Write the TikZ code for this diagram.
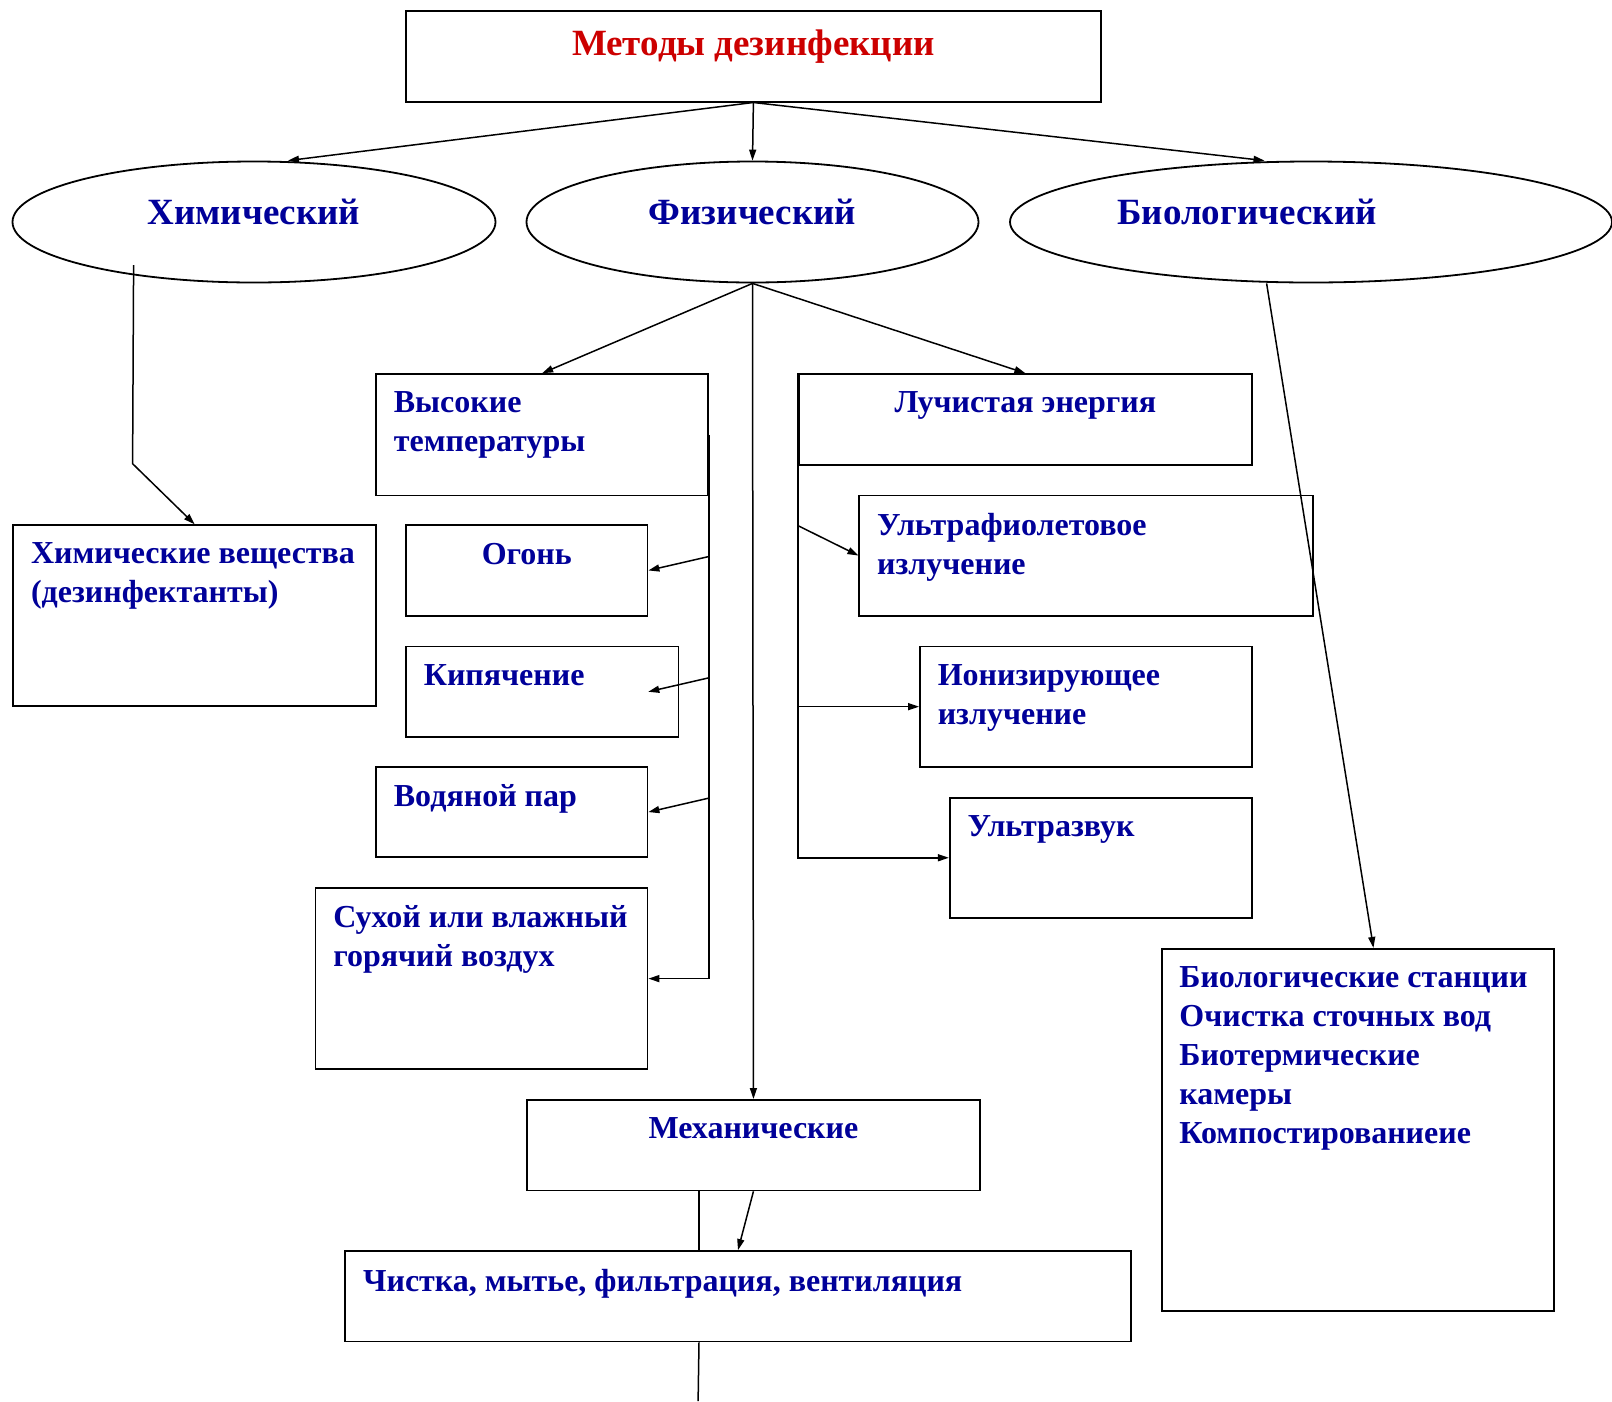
\documentclass[tikz,border=0pt]{standalone}
\usepackage{fontspec}
\setmainfont{Liberation Serif}
\usetikzlibrary{arrows.meta,shapes.geometric,calc}
\definecolor{schemeblue}{RGB}{0,0,153}
\definecolor{schemered}{RGB}{204,0,0}
\begin{document}
\begin{tikzpicture}[x=1pt,y=-1pt,
                box/.style={draw, line width=1.8pt, anchor=north west, inner sep=0pt},
                oval/.style={draw, ellipse, line width=1.8pt, inner sep=0pt},
                words/.style={font=\fontsize{32}{39}\selectfont\bfseries, text=schemeblue, align=left, anchor=north west, inner sep=0pt},
                heading/.style={font=\fontsize{37}{44}\selectfont\bfseries, text=schemeblue, anchor=north, inner sep=0pt},
                link/.style={line width=1.5pt},
                pointer/.style={link, -{Triangle[length=11pt,width=7pt]}}]
                \useasboundingbox (0,0) rectangle (1612,1401);
                \node[box, minimum width=695pt, minimum height=90.5pt] (title) at (405,10.2) {};
                \node[heading, text=schemered] (title-t) at ([shift={(0,19.5)}]title.north) {Методы дезинфекции};
                \node[oval, minimum width=483pt, minimum height=121pt] (chem) at (254,222) {};
                \node[oval, minimum width=452pt, minimum height=121pt] (phys) at (752.5,222) {};
                \node[oval, minimum width=602pt, minimum height=121pt] (bio) at (1311,222) {};
                \node[heading] (chem-t) at (254,199) {Химический};
                \node[heading] (phys-t) at (752.5,199) {Физический};
                \node[heading] (bio-t) at (1247,199) {Биологический};
                \node[box, minimum width=332.1pt, minimum height=121.3pt] (hightemp) at (375.2,373.2) {};
                \node[box, minimum width=362.9pt, minimum height=181pt] (chemsub) at (12.3,524.3) {};
                \node[box, minimum width=241.5pt, minimum height=90.5pt] (fire) at (405.1,524.3) {};
                \node[box, minimum width=272.4pt, minimum height=90.5pt] (boiling) at (405.1,645.6) {};
                \node[box, minimum width=271.4pt, minimum height=90.5pt] (steam) at (375.2,765.9) {};
                \node[box, minimum width=332pt, minimum height=181pt] (hotair) at (314.6,887.2) {};
                \node[box, minimum width=453.4pt, minimum height=90.5pt] (radiant) at (797.8,373.2) {};
                \node[box, minimum width=453.4pt, minimum height=120.3pt] (uv) at (858.4,494.5) {};
                \node[box, minimum width=332.1pt, minimum height=120.3pt] (ionizing) at (919.1,645.6) {};
                \node[box, minimum width=302.3pt, minimum height=120.3pt] (ultrasound) at (948.9,796.7) {};
                \node[box, minimum width=392.7pt, minimum height=361.8pt] (biobox) at (1160.7,947.9) {};
                \node[box, minimum width=452.3pt, minimum height=90.5pt] (mech) at (526.4,1099) {};
                \node[box, minimum width=785.4pt, minimum height=90.5pt] (cleaning) at (344.4,1250.1) {};
                \node[words] (hightemp-t) at ([shift={(18.5,18.5)}]hightemp.north west) {Высокие\\температуры};
                \node[words] (chemsub-t) at ([shift={(18.5,18.5)}]chemsub.north west) {Химические вещества\\(дезинфектанты)};
                \node[words, anchor=north] (fire-t) at ([shift={(0,18.5)}]fire.north) {Огонь};
                \node[words] (boiling-t) at ([shift={(18.5,18.5)}]boiling.north west) {Кипячение};
                \node[words] (steam-t) at ([shift={(18.5,18.5)}]steam.north west) {Водяной пар};
                \node[words] (hotair-t) at ([shift={(18.5,18.5)}]hotair.north west) {Сухой или влажный\\горячий воздух};
                \node[words, anchor=north] (radiant-t) at ([shift={(0,18.5)}]radiant.north) {Лучистая энергия};
                \node[words] (uv-t) at ([shift={(18.5,18.5)}]uv.north west) {Ультрафиолетовое\\излучение};
                \node[words] (ionizing-t) at ([shift={(18.5,18.5)}]ionizing.north west) {Ионизирующее\\излучение};
                \node[words] (ultrasound-t) at ([shift={(18.5,18.5)}]ultrasound.north west) {Ультразвук};
                \node[words] (biobox-t) at ([shift={(18.5,18.5)}]biobox.north west) {Биологические станции\\Очистка сточных вод\\Биотермические\\камеры\\Компостированиеие};
                \node[words, anchor=north] (mech-t) at ([shift={(0,18.5)}]mech.north) {Механические};
                \node[words] (cleaning-t) at ([shift={(18.5,18.5)}]cleaning.north west) {Чистка, мытье, фильтрация, вентиляция};
                \coordinate (bottomend) at (698.1,1401);
                \draw[pointer] (title.south) -- ([xshift=34pt]chem.north);
                \draw[pointer] (title.south) -- (phys.north);
                \draw[pointer] (title.south) -- ([xshift=-46.5pt]bio.north);
                \draw[pointer] (phys.south) -- (hightemp.north);
                \draw[pointer] (phys.south) -- (radiant.north);
                \draw[pointer] (phys.south) -- (mech.north);
                \draw[pointer] ([shift={(-120.4,43.2)}]chem.center) -- ([shift={(-121.4,241.7)}]chem.center) -- (chemsub.north);
                \draw[pointer] (hightemp.east) |- (hotair.east);
                \draw[pointer] ($(hightemp.east |- fire.east)+(0,-14)$) -- (fire.east);
                \draw[pointer] ($(hightemp.east |- boiling.east)+(0,-14)$) -- ([xshift=-31pt]boiling.east);
                \draw[pointer] ($(hightemp.east |- steam.east)+(0,-14)$) -- (steam.east);
                \draw[pointer] (radiant.north west) |- (ultrasound.west);
                \draw[pointer] ($(radiant.west |- uv.west)+(0,-30)$) -- (uv.west);
                \draw[pointer] (radiant.west |- ionizing.west) -- (ionizing.west);
                \draw[pointer] ([xshift=-44.4pt]bio.south) -- ([xshift=15.5pt]biobox.north);
                \draw[pointer] (mech.south) -- (cleaning.north);
                \draw[link] ([xshift=-54.4pt]mech.south) -- ([xshift=-54.4pt]mech.south |- cleaning.north);
                \draw[link] ([xshift=-39pt]cleaning.south) -- (bottomend);
\end{tikzpicture}
\end{document}
